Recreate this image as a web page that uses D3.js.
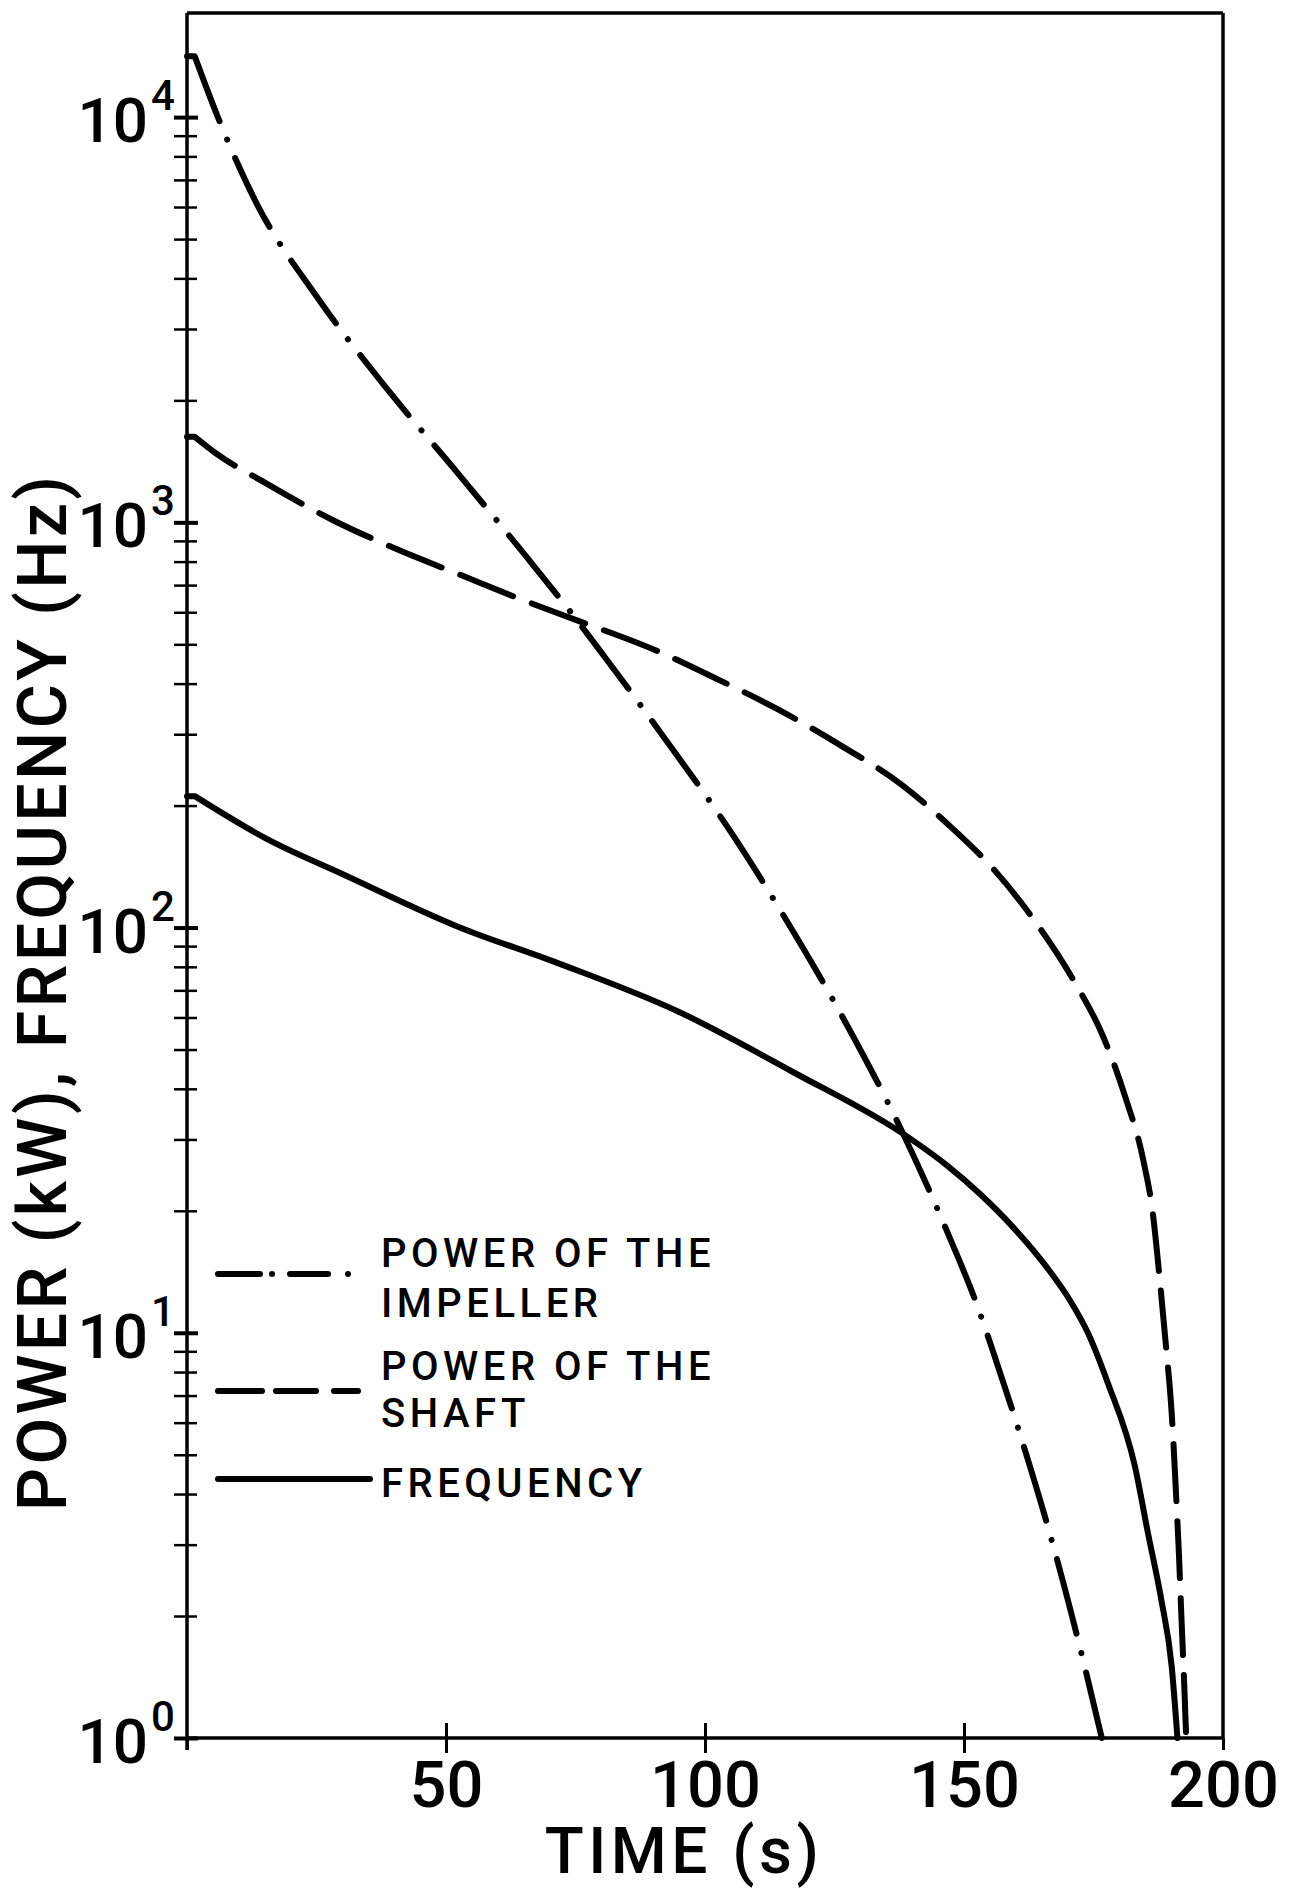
<!DOCTYPE html>
<html><head><meta charset="utf-8">
<script src="https://cdn.jsdelivr.net/npm/d3@7"></script>
<style>
body{margin:0;background:#fff}
svg{display:block}
text{font-family:Roboto,"DejaVu Sans",sans-serif;font-weight:500;fill:#000}
</style>
</head><body>
<svg id="chart" width="1296" height="1892"></svg>
<script>
// ---- data ----
const impellerTime  = [0, 1.5, 5.9, 13.4, 25.1, 38.9, 52.3, 65.4, 75.3, 80.5, 92.3, 105.4, 116.7, 127.4, 138.3, 147.3, 152.2, 155.4, 161.1, 167.2, 172.1, 176.6];
const impellerPower = [14125, 14125, 10046, 6138, 3597, 2113, 1321, 826, 573, 468, 292, 169, 99.3, 57.5, 30.9, 17.1, 12.0, 9.16, 5.47, 2.99, 1.73, 1.0];

const shaftTime  = [0, 1.5, 5.5, 15.2, 28.2, 41.0, 52.3, 64.7, 75.3, 90.2, 101.9, 114.0, 126.1, 137.8, 147.7, 156.0, 163.5, 171.1, 176.9, 181.1, 184.6, 186.5, 187.7, 189.0, 190.1, 190.9, 191.5, 192.0, 192.5, 192.9];
const shaftPower = [1626, 1626, 1483, 1250, 1012, 853, 746, 644, 573, 485, 413, 346, 282, 226, 176, 138, 104.5, 74.3, 53.7, 38.3, 26.7, 19.5, 13.9, 9.25, 6.32, 4.09, 2.83, 1.95, 1.37, 1.0];

const freqTime  = [0, 1.5, 15.2, 30.3, 52.3, 71.6, 95.0, 116.7, 139.2, 146.7, 153.1, 159.5, 166.0, 170.5, 174.0, 177.8, 183.0, 185.5, 188.1, 190.1, 191.2];
const frequency = [211, 211, 166, 135, 100.5, 81.7, 61.9, 44.2, 30.4, 25.9, 22.0, 18.2, 14.5, 12.0, 9.95, 7.50, 4.68, 3.21, 2.19, 1.50, 1.0];

const xTickValues = [0, 50, 100, 150, 200];
const xTickLabels = ["", "50", "100", "150", "200"];
const yDecades = [1, 10, 100, 1000, 10000];
const yExponents = ["0", "1", "2", "3", "4"];
const legendLabels = [["POWER OF THE", "IMPELLER"], ["POWER OF THE", "SHAFT"], ["FREQUENCY"]];
const xTitle = "TIME (s)";
const yTitle = "POWER (kW), FREQUENCY (Hz)";

// ---- layout ----
const L = 187, R = 1223, T = 13, B = 1738;
const svg = d3.select("#chart");
const x = d3.scaleLinear().domain([0, 200]).range([L, R]);
const y = d3.scaleLog().domain([1, 18070]).range([B, T]);

// frame top/right
svg.append("line").attr("x1", L).attr("x2", R).attr("y1", T).attr("y2", T).attr("stroke", "#000").attr("stroke-width", 3.5);
svg.append("line").attr("x1", R).attr("x2", R).attr("y1", T).attr("y2", B).attr("stroke", "#000").attr("stroke-width", 3.5);

// left axis
const minorTicks = [];
yDecades.slice(0, 4).forEach(d => { for (let k = 2; k <= 9; k++) minorTicks.push(d * k); });
const allY = yDecades.concat(minorTicks);
const gy = svg.append("g").attr("transform", `translate(${L},0)`)
  .call(d3.axisLeft(y).tickValues(allY).tickSize(13).tickSizeOuter(0).tickFormat(""));
gy.select(".domain").attr("d", `M0,${T}V${B + 12}`).attr("stroke-width", 3.5);
gy.selectAll(".tick line")
  .attr("x1", d => yDecades.includes(d) ? 11 : 10)
  .attr("stroke-width", d => yDecades.includes(d) ? 4 : 2.5);

// y tick labels 10^n
const yl = svg.append("g");
yDecades.forEach((d, i) => {
  yl.append("text").attr("x", 148).attr("y", y(d) + 25).attr("text-anchor", "end")
    .attr("font-size", 62).text("10");
  yl.append("text").attr("x", 151).attr("y", y(d) - 7).attr("text-anchor", "start")
    .attr("font-size", 42).text(yExponents[i]);
});

// bottom axis
const gx = svg.append("g").attr("transform", `translate(0,${B})`)
  .call(d3.axisBottom(x).tickValues(xTickValues).tickSize(15).tickSizeOuter(0).tickFormat((d, i) => xTickLabels[i]));
gx.select(".domain").attr("d", `M${L},0H${R}`).attr("stroke-width", 3.5);
gx.selectAll(".tick line")
  .attr("y1", d => (d === 0 || d === 200) ? 0 : -15)
  .attr("y2", d => (d === 0 || d === 200) ? 12 : 15)
  .attr("stroke-width", 3);
gx.selectAll(".tick text").attr("y", 69).attr("dy", 0).attr("font-size", 65)
  .attr("font-family", "Roboto, 'DejaVu Sans', sans-serif").attr("font-weight", 500).attr("fill", "#000");

// titles
svg.append("text").attr("x", 684).attr("y", 1873).attr("text-anchor", "middle")
  .attr("font-size", 64).attr("letter-spacing", 4.5).text(xTitle);
svg.append("text").attr("transform", "translate(66,992) rotate(-90)").attr("text-anchor", "middle")
  .attr("font-size", 68).attr("letter-spacing", 3.3).text(yTitle);

// curves: sharp flat start segment, smooth afterwards
const smooth = d3.line().x(d => x(d[0])).y(d => y(d[1])).curve(d3.curveMonotoneX);
const series = [
  { t: impellerTime, v: impellerPower, dash: "77,20,0.1,20" },
  { t: shaftTime, v: shaftPower, dash: "57,20" },
  { t: freqTime, v: frequency, dash: null }
];
series.forEach(s => {
  const pts = s.t.map((t, i) => [t, s.v[i]]);
  const d = `M${x(pts[0][0])},${y(pts[0][1])}` + smooth(pts.slice(1)).replace(/^M/, "L");
  svg.append("path").attr("d", d).attr("fill", "none").attr("stroke", "#000")
    .attr("stroke-width", 6).attr("stroke-linecap", "round").attr("stroke-linejoin", "round")
    .attr("stroke-dasharray", s.dash);
});

// legend
const legend = [
  { x1: 218, x2: 350, y: 1274, dash: "42,12,0.01,18,38,20,0.01,100", ty: [1267, 1317] },
  { x1: 218, x2: 358, y: 1391, dash: "44,14,40,18,25,100", ty: [1380, 1427] },
  { x1: 218, x2: 370, y: 1479, dash: null, ty: [1497] }
];
legend.forEach((g, i) => {
  svg.append("line").attr("x1", g.x1).attr("x2", g.x2).attr("y1", g.y).attr("y2", g.y)
    .attr("stroke", "#000").attr("stroke-width", 6).attr("stroke-linecap", "round")
    .attr("stroke-dasharray", g.dash);
  legendLabels[i].forEach((txt, j) => {
    svg.append("text").attr("x", 381).attr("y", g.ty[j]).attr("font-size", 40)
      .attr("letter-spacing", 4.5).text(txt);
  });
});
</script>
</body></html>
